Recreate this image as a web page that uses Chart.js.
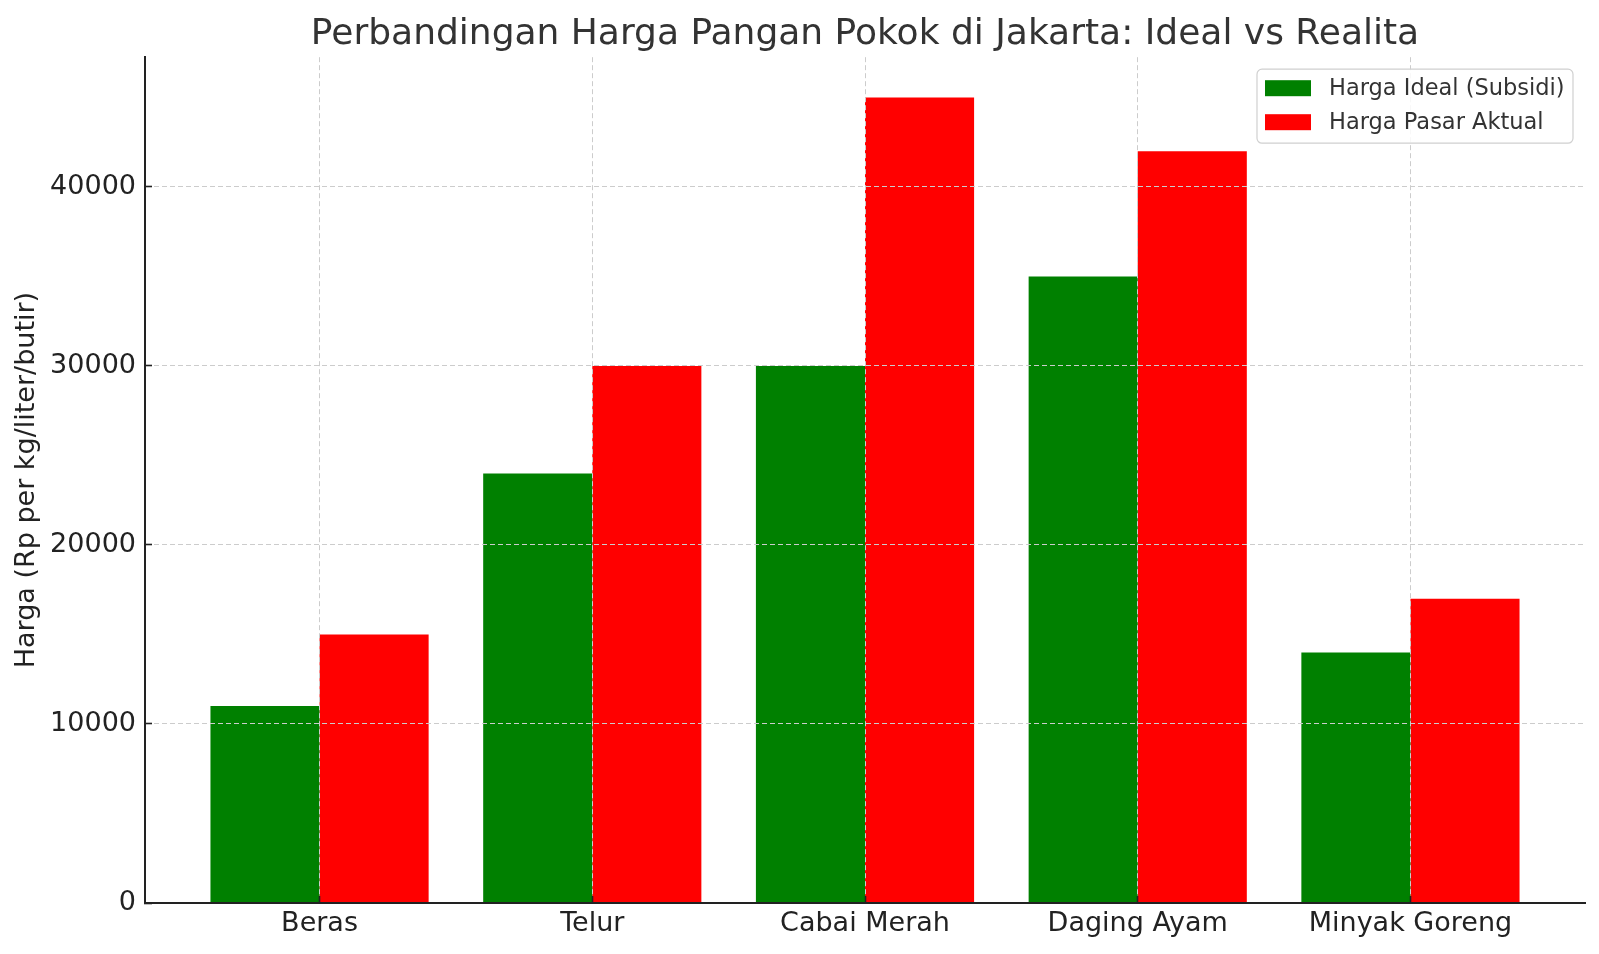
<!DOCTYPE html>
<html>
<head>
<meta charset="utf-8">
<script src="https://cdn.jsdelivr.net/npm/chart.js@4.4.0/dist/chart.umd.min.js"></script>
<style>
html, body { margin: 0; padding: 0; background: #fff; }
canvas { display: block; }
</style>
</head>
<body>
<canvas id="price-chart" width="1599" height="954"></canvas>
<script>
var categories = ['Beras', 'Telur', 'Cabai Merah', 'Daging Ayam', 'Minyak Goreng'];
var idealPrices = [11000, 24000, 30000, 35000, 14000];
var marketPrices = [15000, 30000, 45000, 42000, 17000];
var yTicks = [0, 10000, 20000, 30000, 40000];
var seriesLabels = ['Harga Ideal (Subsidi)', 'Harga Pasar Aktual'];
var seriesColors = ['#008000', '#ff0000'];

var FONT = "'DejaVu Sans', sans-serif";

function toPoints(values) {
    return values.map(function(v, i) { return {x: i, y: v}; });
}

// matplotlib-like legend box in the upper right of the plot
var boxLegend = {
    id: 'boxLegend',
    afterDraw: function(chart) {
        var ctx = chart.ctx;
        var area = chart.chartArea;
        var w = 316, h = 74, r = 5;
        var x = area.right - 12 - w;
        var y = area.top + 12;

        ctx.save();
        ctx.beginPath();
        ctx.moveTo(x + r, y);
        ctx.lineTo(x + w - r, y);
        ctx.arcTo(x + w, y, x + w, y + r, r);
        ctx.lineTo(x + w, y + h - r);
        ctx.arcTo(x + w, y + h, x + w - r, y + h, r);
        ctx.lineTo(x + r, y + h);
        ctx.arcTo(x, y + h, x, y + h - r, r);
        ctx.lineTo(x, y + r);
        ctx.arcTo(x, y, x + r, y, r);
        ctx.closePath();
        ctx.fillStyle = 'rgba(255,255,255,0.85)';
        ctx.fill();
        ctx.strokeStyle = '#d0d0d0';
        ctx.lineWidth = 1.2;
        ctx.stroke();

        ctx.font = '22.5px ' + FONT;
        ctx.textBaseline = 'middle';
        ctx.textAlign = 'left';
        chart.data.datasets.forEach(function(ds, i) {
            var rowY = y + 19 + i * 34;
            ctx.fillStyle = ds.backgroundColor;
            ctx.fillRect(x + 8, rowY - 8, 46, 16);
            ctx.fillStyle = '#333333';
            ctx.fillText(ds.label, x + 72, rowY + 1);
        });
        ctx.restore();
    }
};

var ctx = document.getElementById('price-chart');

new Chart(ctx, {
    type: 'bar',
    data: {
        datasets: [{
            label: seriesLabels[0],
            data: toPoints(idealPrices),
            backgroundColor: seriesColors[0],
            borderWidth: 0,
            barPercentage: 1.0,
            categoryPercentage: 0.8
        }, {
            label: seriesLabels[1],
            data: toPoints(marketPrices),
            backgroundColor: seriesColors[1],
            borderWidth: 0,
            barPercentage: 1.0,
            categoryPercentage: 0.8
        }]
    },
    options: {
        responsive: false,
        devicePixelRatio: 1,
        animation: false,
        events: [],
        layout: {
            padding: {left: 0, right: 14, top: 0, bottom: 0}
        },
        plugins: {
            legend: {display: false},
            tooltip: {enabled: false},
            title: {
                display: true,
                text: 'Perbandingan Harga Pangan Pokok di Jakarta: Ideal vs Realita',
                fullSize: false,
                color: '#333333',
                font: {family: FONT, size: 36, weight: 'normal'},
                padding: {top: 13, bottom: 1}
            }
        },
        scales: {
            x: {
                type: 'linear',
                min: -0.64,
                max: 4.64,
                offset: false,
                afterBuildTicks: function(scale) {
                    scale.ticks = categories.map(function(c, i) { return {value: i}; });
                },
                afterFit: function(scale) { scale.height = 51; },
                grid: {
                    z: 1,
                    offset: false,
                    color: '#cccccc',
                    lineWidth: 1,
                    tickLength: -7,
                    tickColor: '#222222',
                    tickWidth: 1.6,
                    tickBorderDash: []
                },
                border: {z: 2, color: '#222222', width: 2, dash: [5, 3]},
                ticks: {
                    color: '#222222',
                    padding: 12,
                    maxRotation: 0,
                    autoSkip: false,
                    font: {family: FONT, size: 27},
                    callback: function(value) { return categories[value]; }
                }
            },
            y: {
                min: 0,
                max: 47250,
                afterBuildTicks: function(scale) {
                    scale.ticks = yTicks.map(function(v) { return {value: v}; });
                },
                afterFit: function(scale) { scale.width = 145; },
                grid: {
                    z: 1,
                    color: '#cccccc',
                    lineWidth: 1,
                    tickLength: -7,
                    tickColor: '#222222',
                    tickWidth: 1.6,
                    tickBorderDash: []
                },
                border: {z: 2, color: '#222222', width: 2, dash: [5, 3]},
                ticks: {
                    color: '#222222',
                    padding: 16,
                    font: {family: FONT, size: 27},
                    callback: function(value) { return String(value); }
                },
                title: {
                    display: true,
                    text: 'Harga (Rp per kg/liter/butir)',
                    color: '#222222',
                    font: {family: FONT, size: 27},
                    padding: {top: 11, bottom: 0}
                }
            }
        }
    },
    plugins: [boxLegend]
});
</script>
</body>
</html>
